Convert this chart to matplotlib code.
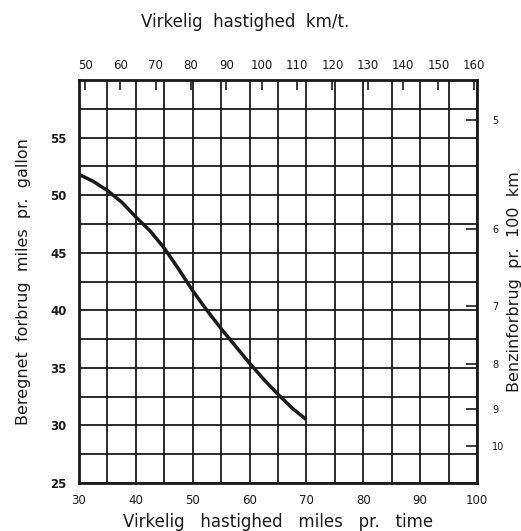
import matplotlib
matplotlib.use('Agg')
import matplotlib.pyplot as plt
import numpy as np

# measured fuel consumption vs. real speed
speed_mph = [30, 32.5, 35, 37.5, 40, 42.5, 45, 47.5, 50, 52.5, 55, 57.5, 60, 62.5, 65, 67.5, 70]
mpg = [51.8, 51.2, 50.4, 49.4, 48.1, 46.9, 45.4, 43.6, 41.7, 40.0, 38.4, 36.9, 35.4, 34.0, 32.7, 31.5, 30.5]

mph_ticks = [30, 40, 50, 60, 70, 80, 90, 100]
mpg_ticks = [25, 30, 35, 40, 45, 50, 55]
kmh_ticks = [50, 60, 70, 80, 90, 100, 110, 120, 130, 140, 150, 160]
l100_ticks = [5, 6, 7, 8, 9, 10]

KMH_PER_MPH = 1.609
L100_MPG = 282.5  # imperial gallon

INK = '#1a1a1a'

fig = plt.figure(figsize=(5.21, 5.31), dpi=100)
ax = fig.add_axes([0.1516, 0.0904, 0.7639, 0.7589])

ax.plot(speed_mph, mpg, color=INK, linewidth=2.5, solid_capstyle='butt',
        solid_joinstyle='round', zorder=3)

ax.set_xlim(30, 100)
ax.set_ylim(25, 60)
ax.set_xticks(mph_ticks)
ax.set_yticks(mpg_ticks)
ax.set_xticks(np.arange(30, 101, 5), minor=True)
ax.set_yticks(np.arange(25, 60.1, 2.5), minor=True)
ax.grid(which='both', color=INK, linewidth=1.3)
ax.tick_params(which='both', length=0)
ax.tick_params(axis='x', pad=8, labelsize=8.5, colors=INK)
ax.tick_params(axis='y', pad=9, labelsize=8.5, colors=INK)
for lab in ax.get_yticklabels():
    lab.set_fontweight('bold')
for s in ax.spines.values():
    s.set_linewidth(2)
    s.set_color(INK)

# top axis: km/t
top = ax.secondary_xaxis('top', functions=(lambda v: v * KMH_PER_MPH,
                                           lambda v: v / KMH_PER_MPH))
top.set_xticks(kmh_ticks)
top.tick_params(direction='in', length=7, width=1.2, pad=6, labelsize=8.5, colors=INK)
top.spines['top'].set_visible(False)

# right axis: litre pr. 100 km
right = ax.secondary_yaxis('right', functions=(lambda v: L100_MPG / v,
                                               lambda v: L100_MPG / v))
right.set_yticks(l100_ticks)
right.tick_params(direction='in', length=8, width=1.2, pad=11, labelsize=7, colors=INK)
right.spines['right'].set_visible(False)

ax.set_xlabel('Virkelig   hastighed   miles   pr.   time', fontsize=12, labelpad=4, color=INK)
ax.set_ylabel('Beregnet  forbrug  miles  pr.  gallon', fontsize=11.5, labelpad=14, color=INK)
right.set_ylabel('Benzinforbrug  pr.  100  km', fontsize=11.5, labelpad=2, color=INK)
fig.text(0.47, 0.958, 'Virkelig  hastighed  km/t.', ha='center', va='center',
         fontsize=12, color=INK)

fig.savefig('out.png', dpi=100)
